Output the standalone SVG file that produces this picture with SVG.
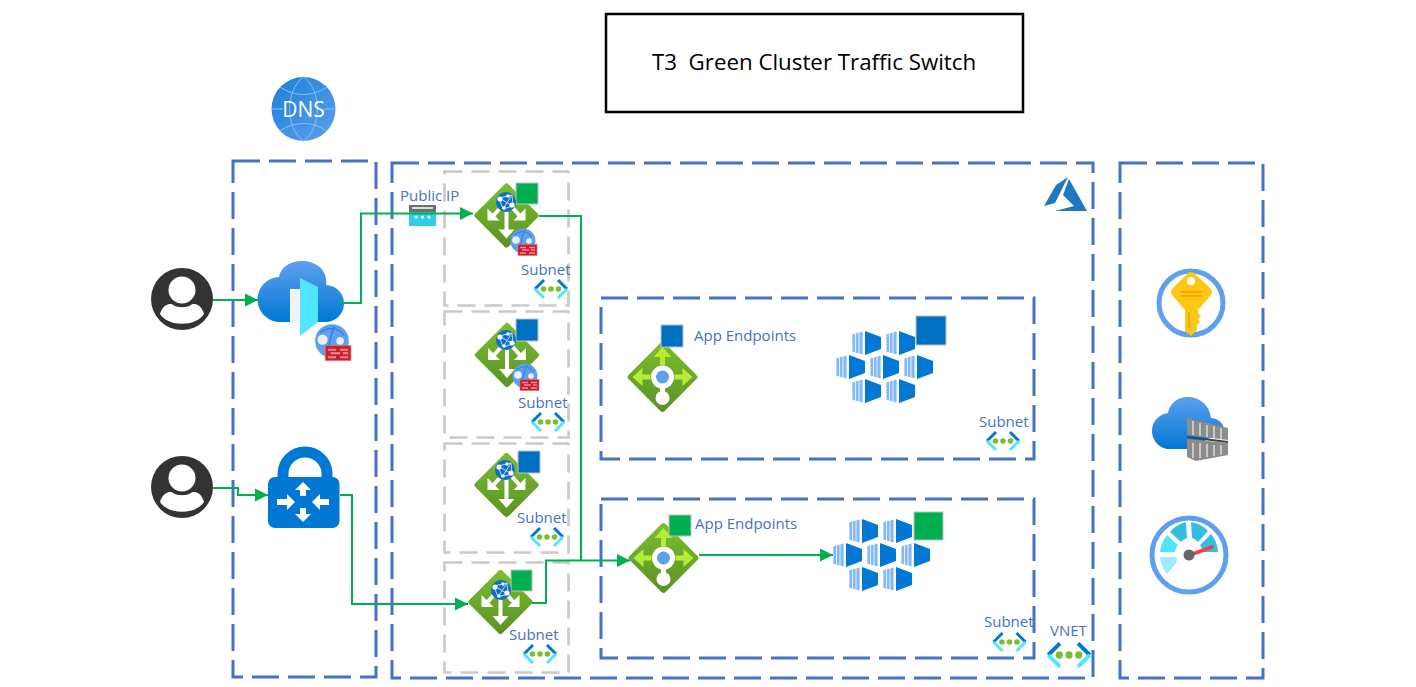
<svg xmlns="http://www.w3.org/2000/svg" xmlns:xlink="http://www.w3.org/1999/xlink" width="1416" height="687" viewBox="0 0 1416 687">
<style>
.bb{fill:none;stroke:#4472C4;stroke-width:3;stroke-dasharray:27 9}
.gb{fill:none;stroke:#C9C9C9;stroke-width:2.6;stroke-dasharray:18 9}
.c{fill:none;stroke:#00B050;stroke-width:2}
.ca{fill:none;stroke:#00B050;stroke-width:2;marker-end:url(#ah)}
.t{font-family:"Open Sans","Noto Sans",sans-serif;font-size:15px;fill:#4472C4}
.sqb{fill:#0070C0;stroke:#BFBFBF;stroke-width:1}
.sqg{fill:#00B050;stroke:#BFBFBF;stroke-width:1}
</style>
<defs>
<marker id="ah" markerUnits="userSpaceOnUse" markerWidth="14" markerHeight="14" refX="13" refY="7" orient="auto"><path d="M0,0.5 L13,7 L0,13.5 Z" fill="#00B050"/></marker>
<linearGradient id="gg" x1="0" y1="0" x2="1" y2="1"><stop offset="0" stop-color="#7CBF2E"/><stop offset="1" stop-color="#5A9126"/></linearGradient>
<linearGradient id="gc" x1="0" y1="0" x2="0" y2="1"><stop offset="0" stop-color="#5EA0EF"/><stop offset="1" stop-color="#0078D4"/></linearGradient>
<linearGradient id="gd" x1="0" y1="0" x2="1" y2="1"><stop offset="0" stop-color="#1B7FD8"/><stop offset="1" stop-color="#5EA0EF"/></linearGradient>
<g id="user"><circle r="31" fill="#333"/><circle cy="-9" r="13.5" fill="#fff"/><path d="M-22,15 C-19,4 -10,4 -9,6 C-4,9 4,9 9,6 C11,4 19,4 22,15 C14,28 -14,28 -22,15 Z" fill="#fff"/></g>
<g id="subnet"><path d="M-7,-9 L-16,0 M7,-9 L16,0" fill="none" stroke="#0078D4" stroke-width="3"/><path d="M-16,0 L-7,9 M16,0 L7,9" fill="none" stroke="#50E6FF" stroke-width="3"/><circle cx="-7.500" r="2.800" fill="#7CBF2E"/><circle r="2.800" fill="#7CBF2E"/><circle cx="7.500" r="2.800" fill="#7CBF2E"/></g>
<g id="globe"><circle r="10" fill="#0D6FC7"/><path d="M-7,-4 L6,-7 L7,4 L-3,7 Z M-7,-4 L7,4 M6,-7 L-3,7" fill="none" stroke="#BBD9F5" stroke-width="1"/><circle cx="-6" cy="-3" r="2.600" fill="#fff"/><circle cx="6" cy="3" r="2.600" fill="#fff"/><circle cx="2" cy="-6" r="1.800" fill="#fff"/><circle cx="-2" cy="6" r="1.800" fill="#fff"/></g>
<g id="waf"><circle r="12.500" fill="#5EA0EF"/><path d="M-9,-6 C-3,-11 5,-10 9,-4 M2,-11 C-2,-3 -2,3 -3,10" fill="none" stroke="#2F7FD8" stroke-width="1"/><circle cx="-7" cy="-1" r="3.800" fill="#E8F1FB"/><circle cx="6" cy="0" r="2.800" fill="#E8F1FB"/><rect x="-5" y="3.500" width="19" height="11" fill="#C6202A" stroke="#E86A70" stroke-width=".6"/><path d="M-3,6.500 H3 M6,6.500 H12 M-1,9 H6 M8,9 H12 M-3,12 H3 M6,12 H12" stroke="#F58A90" stroke-width="1.500"/></g>
<g id="agw"><rect x="-23.500" y="-23.500" width="47" height="47" rx="3" transform="rotate(45)" fill="url(#gg)"/>
<path d="M0,-6 V17" stroke="#fff" stroke-width="4" fill="none"/><path d="M-8,14 L0,23 L8,14 Z" fill="#fff"/>
<path d="M-4,-10 L-13,0" stroke="#fff" stroke-width="4" fill="none"/><path d="M-19,-7 V5 H-7 Z" fill="#fff"/>
<path d="M4,-10 L13,0" stroke="#fff" stroke-width="4" fill="none"/><path d="M19,-7 V5 H7 Z" fill="#fff"/></g>
<g id="igw"><rect x="-25.500" y="-25.500" width="51" height="51" rx="3" transform="rotate(45)" fill="url(#gg)"/>
<path d="M0,-12 V-22 M-12,0 H-22 M12,0 H22" stroke="#B4EC36" stroke-width="5" fill="none"/><path d="M-9,-20 L0,-30 L9,-20 Z M-20,-9 L-30,0 L-20,9 Z M20,-9 L30,0 L20,9 Z" fill="#B4EC36"/>
<path d="M0,8 V16" stroke="#fff" stroke-width="5"/><circle r="11.500" fill="#fff"/><circle r="6.500" fill="#5EA0EF"/><circle cy="21" r="7" fill="#fff"/></g>
<g id="cube"><path d="M0,3 L11,0 V24 L0,21 Z" fill="#83B9F9"/><path d="M0,3 L11,0 V24 L0,21 Z M3.500,2 V22 M7,1 V23" fill="none" stroke="#fff" stroke-width=".8"/><path d="M13,0 L29,6 V18 L13,24 Z" fill="#0078D4"/></g>
<g id="aks"><use xlink:href="#cube" x="16" y="0"/><use xlink:href="#cube" x="50" y="0"/><use xlink:href="#cube" x="0" y="24"/><use xlink:href="#cube" x="34" y="24"/><use xlink:href="#cube" x="68" y="24"/><use xlink:href="#cube" x="16" y="48"/><use xlink:href="#cube" x="50" y="48"/></g>
</defs>
<rect width="1416" height="687" fill="#fff"/>

<g id="containers">
<rect x="233" y="161" width="143" height="516" class="bb"/>
<rect x="392" y="163" width="701" height="515" class="bb"/>
<rect x="1120" y="163" width="143" height="515" class="bb"/>
<rect x="601" y="298" width="433" height="161" class="bb"/>
<rect x="601" y="499" width="433" height="159" class="bb"/>
<rect x="444.500" y="171.500" width="124" height="134" class="gb"/>
<rect x="444.500" y="311.500" width="124" height="126" class="gb"/>
<rect x="444.500" y="443.500" width="124" height="109" class="gb"/>
<rect x="444.500" y="562.500" width="124" height="110" class="gb"/>
</g>

<g id="title"><rect x="606" y="14" width="417" height="98" fill="#fff" stroke="#000" stroke-width="2.500"/><text x="652" y="70" font-family="'Open Sans','Noto Sans',sans-serif" font-size="22.300" fill="#000" xml:space="preserve">T3  Green Cluster Traffic Switch</text></g>

<g id="dns"><circle cx="303.500" cy="109" r="32" fill="url(#gd)"/><path d="M272,109 H283 M324,109 H335 M303.500,77 C285,90 285,128 303.500,141 C322,128 322,90 303.500,77 M280,87 C295,97 312,97 327,87 M280,131 C295,121 312,121 327,131" fill="none" stroke="#8BBDF2" stroke-width="1"/><text x="303.500" y="117" text-anchor="middle" font-family="'Open Sans',sans-serif" font-size="21" fill="#fff">DNS</text></g>

<g id="user1"><use xlink:href="#user" x="182" y="299"/></g>
<g id="user2"><use xlink:href="#user" x="182" y="487"/></g>

<g id="frontdoor"><path d="M281,322 A22.500,22.500 0 0 1 279,277 C283,253 330,256 326,285 A18.500,18.500 0 0 1 325,322 Z" fill="url(#gc)"/><rect x="290" y="289" width="10" height="33" fill="#F2F2F2"/><path d="M300,278 L318,287 V322 L300,336 Z" fill="#50E6FF"/><use xlink:href="#waf" transform="translate(332,341) scale(1.35)"/></g>

<g id="vpn"><path d="M283,482 V474 A22,22 0 0 1 327,474 V482" fill="none" stroke="#0078D4" stroke-width="11"/><rect x="268" y="477" width="71.500" height="51" rx="7" fill="#0078D4"/><g fill="#fff"><path d="M303,482 L311,490 H306 V496 H300 V490 H295 Z"/><path d="M303,522 L311,514 H306 V508 H300 V514 H295 Z"/><path d="M295,502 L287,494 V499 H277 V505 H287 V510 Z"/><path d="M312,502 L320,494 V499 H329 V505 H320 V510 Z"/></g></g>

<g id="publicip"><rect x="409" y="205" width="27" height="7" fill="#6D6D78"/><rect x="412" y="207" width="21" height="2" fill="#ddd"/><rect x="409" y="212" width="27" height="14" fill="#32CDEA"/><circle cx="416" cy="217" r="1.600" fill="#fff"/><circle cx="422.500" cy="217" r="1.600" fill="#fff"/><circle cx="429" cy="217" r="1.600" fill="#fff"/><text x="400" y="201" class="t">Public IP</text></g>

<g id="agw1"><use xlink:href="#agw" x="506.500" y="215.500"/><rect x="516" y="183" width="22" height="21" class="sqg"/><use xlink:href="#globe" x="506" y="202"/><use xlink:href="#waf" x="523" y="241"/></g>
<g id="agw2"><use xlink:href="#agw" x="507" y="355"/><rect x="516" y="319" width="22" height="22" class="sqb"/><use xlink:href="#globe" x="506" y="340"/><use xlink:href="#waf" x="525" y="376"/></g>
<g id="agw3"><use xlink:href="#agw" x="506.500" y="485"/><rect x="518" y="451" width="22" height="22" class="sqb"/><use xlink:href="#globe" x="505" y="470"/></g>
<g id="agw4"><use xlink:href="#agw" x="500.500" y="602"/><rect x="511" y="570" width="21" height="21" class="sqg"/><use xlink:href="#globe" x="501" y="590"/></g>

<g id="subnet1"><text x="521" y="275" class="t">Subnet</text><use xlink:href="#subnet" x="551" y="289"/></g>
<g id="subnet2"><text x="518" y="408" class="t">Subnet</text><use xlink:href="#subnet" x="548" y="422"/></g>
<g id="subnet3"><text x="517" y="523" class="t">Subnet</text><use xlink:href="#subnet" x="547" y="537"/></g>
<g id="subnet4"><text x="509" y="640" class="t">Subnet</text><use xlink:href="#subnet" x="540" y="654"/></g>
<g id="subnet5"><text x="979" y="427" class="t">Subnet</text><use xlink:href="#subnet" x="1003" y="441"/></g>
<g id="subnet6"><text x="984" y="627" class="t">Subnet</text><use xlink:href="#subnet" x="1009.500" y="642"/></g>
<g id="vnet"><text x="1050" y="636" class="t">VNET</text><use xlink:href="#subnet" transform="translate(1069,655) scale(1.3)"/></g>

<g id="igw1"><use xlink:href="#igw" x="662.500" y="377"/><rect x="661" y="325" width="22" height="22" class="sqb"/><text x="694" y="341" class="t">App Endpoints</text></g>
<g id="igw2"><use xlink:href="#igw" x="663.500" y="558"/><rect x="669" y="515" width="22" height="21" class="sqg"/><text x="695" y="529" class="t">App Endpoints</text></g>

<g id="aks1"><use xlink:href="#aks" x="836" y="331"/><rect x="916" y="316" width="30" height="29" class="sqb"/></g>
<g id="aks2"><use xlink:href="#aks" x="833" y="519"/><rect x="914" y="512" width="29" height="28" class="sqg"/></g>

<g id="azure"><path d="M1044,206 L1056,185 L1068,177 L1055,203 Z" fill="#1F78BE"/><path d="M1069,179 L1087,211 L1055,211 L1074,206 L1063,195 Z" fill="#1F78BE"/></g>

<g id="keyvault"><circle cx="1191" cy="303" r="32" fill="#fff" stroke="#5EA0EF" stroke-width="5"/><path d="M1188,273 Q1191,271 1194,273 L1211,289 Q1213,292 1211,295 L1198,310 V313 L1201,316 L1198,319 L1200,322 L1197,325 V330 L1191,336 L1185,331 V310 L1172,295 Q1170,292 1172,289 Z" fill="#FFC715"/><circle cx="1191" cy="281" r="4" fill="#fff"/><path d="M1181,292 H1202 M1181,296 H1202 M1189,312 V328" stroke="#F59A00" stroke-width="1.500"/></g>

<g id="registry"><path d="M1172,449 A18,18 0 0 1 1168,413 C1172,390 1208,392 1211,418 C1218,418 1224,424 1224,430 L1190,449 Z" fill="url(#gc)"/><path d="M1187,418 L1228,428 V440 L1187,435 Z" fill="#8C8C8C"/><path d="M1187,439 L1228,443 V455 L1196,461 L1187,457 Z" fill="#8C8C8C"/><path d="M1187,437 L1228,442" stroke="#3C4450" stroke-width="2"/><path d="M1193,421 V435 M1200,423 V436 M1207,425 V437 M1214,426 V438 M1221,428 V439 M1193,443 V458 M1200,443 V458 M1207,444 V457 M1214,445 V456 M1221,445 V455" stroke="#C8C8C8" stroke-width="2"/></g>

<g id="gauge"><circle cx="1189" cy="555" r="37" fill="#fff" stroke="#5EA0EF" stroke-width="5"/><path d="M1160,552 A30,30 0 0 1 1167,535 L1178,545 A14,14 0 0 0 1175,552 Z" fill="#50E6FF"/><path d="M1170,532 A30,30 0 0 1 1186,522 L1187,538 A14,14 0 0 0 1181,542 Z" fill="#32BEDD"/><path d="M1191,522 A30,30 0 0 1 1208,531 L1198,542 A14,14 0 0 0 1192,538 Z" fill="#32BEDD"/><path d="M1211,534 A30,30 0 0 1 1218,552 L1203,552 A14,14 0 0 0 1200,545 Z" fill="#32BEDD"/><path d="M1160,557 H1177 A14,14 0 0 0 1177,562 L1167,574 A30,30 0 0 1 1160,557 Z" fill="#9CEBFF"/><path d="M1190,555 L1212,547" stroke="#EF4050" stroke-width="3.500" stroke-linecap="round"/><circle cx="1189" cy="555" r="5.500" fill="#666"/></g>

<g id="connectors">
<path class="ca" d="M213,300 H258"/>
<path class="c" d="M339,303 H361 V213.500 H400"/>
<path class="ca" d="M400,213.500 H473"/>
<path class="ca" d="M213,488 H238 V495 H268"/>
<path class="c" d="M340,495 H352 V604 H400"/>
<path class="ca" d="M400,604 H468"/>
<path class="c" d="M539,216 H581 V561"/>
<path class="ca" d="M532,603 H546 V560.500 H630"/>
<path class="ca" d="M699,555 H833"/>
</g>
</svg>
